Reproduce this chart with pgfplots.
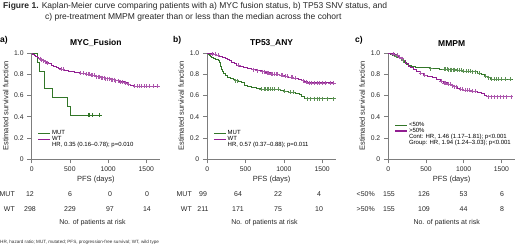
\documentclass[border=0pt]{standalone}
\usepackage{pgfplots}
\pgfplotsset{compat=1.18}
\usepackage{fontspec}
\setmainfont{Liberation Sans}
\definecolor{kmgreen}{RGB}{50,118,40}
\definecolor{kmpurple}{RGB}{145,30,145}
\definecolor{axgray}{RGB}{125,125,125}
\pgfplotsset{kmaxis/.style={
  scale only axis, height=105.7pt, anchor=south west,
  xmin=0, xmax=1680, ymin=0, ymax=1,
  axis x line*=bottom, axis y line*=left,
  axis line style={axgray, line width=0.7pt},
  tick style={axgray, line width=0.7pt}, tick align=outside, major tick length=4.5pt,
  xtick={0,500,1000,1500}, xticklabels={0,500,1000,1500},
  ytick={0,0.2,0.4,0.6,0.8,1}, yticklabels={0,0.2,0.4,0.6,0.8,1.0},
  ticklabel style={font=\fontsize{6.8}{7}\selectfont, text=black!85},
  /pgf/number format/assume math mode=true,
  xlabel={PFS (days)}, ylabel={Estimated survival function},
  label style={font=\fontsize{7.5}{8}\selectfont, text=black!85},
  xlabel style={yshift=3pt},
  ylabel style={yshift=-1pt},
  clip=false,
  legend cell align=left,
  legend image code/.code={\draw[#1] (0pt,0pt) -- (12pt,0pt);},
  legend style={draw=none, fill=none, anchor=north west, font=\fontsize{6}{6.5}\selectfont,
    row sep=-2.2pt, inner sep=0pt, nodes={inner sep=1.2pt}},
},
steps/.style={const plot, no marks, line width=0.8pt, forget plot},
cens/.style={only marks, mark=+, mark size=2pt, line width=0.6pt, forget plot},
}
\begin{document}
\begin{tikzpicture}
\useasboundingbox (0pt,0pt) rectangle (520pt,246pt);
% titles
\node[anchor=base west, inner sep=0pt, font=\fontsize{8.5}{9}\selectfont, text=black!85] at (3pt,237pt) {\textbf{Figure 1.} Kaplan-Meier curve comparing patients with a) MYC fusion status, b) TP53 SNV status, and};
\node[anchor=base west, inner sep=0pt, font=\fontsize{8.5}{9}\selectfont, text=black!85] at (45pt,226.5pt) {c) pre-treatment MMPM greater than or less than the median across the cohort};
\node[anchor=base west, inner sep=0pt, font=\bfseries\fontsize{8.5}{9}\selectfont] at (0pt,203pt) {a)};
\node[anchor=base west, inner sep=0pt, font=\bfseries\fontsize{8.5}{9}\selectfont] at (173pt,203pt) {b)};
\node[anchor=base west, inner sep=0pt, font=\bfseries\fontsize{8.5}{9}\selectfont] at (355pt,203pt) {c)};

% ---------------- panel a
\begin{axis}[kmaxis, at={(31.7pt,87pt)}, width=128.3pt,
  title={\textbf{MYC\_Fusion}}, title style={font=\fontsize{8.5}{9}\selectfont, yshift=-3pt},
  legend style={at={(axis cs:75,0.28)}}]
\addlegendimage{draw=kmgreen, line width=1.3pt}
\addlegendentry{MUT}
\addlegendimage{draw=kmpurple, line width=1.3pt}
\addlegendentry{WT}
\addlegendimage{empty legend}
\addlegendentry{HR, 0.35 (0.16–0.78); p=0.010}
\addplot[steps, kmgreen] coordinates {(0,1) (78,0.917) (100,0.833) (160,0.667) (265,0.583) (461,0.5) (509,0.417) (888,0.417)};
\addplot[steps, kmpurple] coordinates {(0,1) (15,0.99) (30,0.98) (50,0.97) (70,0.96) (90,0.95) (115,0.94) (140,0.93) (165,0.92) (195,0.91) (225,0.90) (255,0.89) (290,0.88) (320,0.87) (350,0.86) (380,0.85) (420,0.84) (480,0.83) (560,0.82) (640,0.81) (700,0.80) (770,0.79) (840,0.78) (900,0.77) (960,0.76) (1020,0.75) (1090,0.74) (1150,0.73) (1210,0.72) (1250,0.71) (1290,0.70) (1330,0.69) (1660,0.69)};
\addplot[cens, kmgreen] coordinates {(735,0.417) (760,0.417) (787,0.417) (888,0.417)};
\addplot[cens, kmpurple!75] coordinates {(110,0.95) (125,0.94) (150,0.93) (175,0.92) (200,0.91) (390,0.85) (410,0.85) (640,0.81) (680,0.81) (720,0.80) (740,0.80) (760,0.80) (780,0.79) (800,0.79) (820,0.79) (850,0.78) (870,0.78) (890,0.78) (910,0.77) (930,0.77) (950,0.77) (970,0.76) (990,0.76) (1010,0.76) (1040,0.75) (1060,0.75) (1080,0.75) (1100,0.74) (1130,0.74) (1160,0.73) (1190,0.73) (1230,0.72) (1270,0.71) (1350,0.69) (1380,0.69) (1410,0.69) (1440,0.69) (1470,0.69) (1500,0.69) (1540,0.69) (1590,0.69) (1650,0.69)};
\end{axis}

% ---------------- panel b
\begin{axis}[kmaxis, at={(207.3pt,87pt)}, width=128.7pt,
  title={\textbf{TP53\_ANY}}, title style={font=\fontsize{8.5}{9}\selectfont, yshift=-3pt},
  legend style={at={(axis cs:75,0.28)}}]
\addlegendimage{draw=kmgreen, line width=1.3pt}
\addlegendentry{MUT}
\addlegendimage{draw=kmpurple, line width=1.3pt}
\addlegendentry{WT}
\addlegendimage{empty legend}
\addlegendentry{HR, 0.57 (0.37–0.88); p=0.011}
\addplot[steps, kmgreen] coordinates {(0,1) (10,0.99) (25,0.98) (40,0.97) (60,0.96) (80,0.95) (100,0.94) (150,0.93) (160,0.91) (170,0.88) (180,0.85) (195,0.83) (210,0.81) (230,0.79) (260,0.77) (300,0.76) (340,0.75) (370,0.74) (400,0.73) (440,0.72) (480,0.70) (520,0.69) (580,0.68) (640,0.67) (700,0.66) (960,0.65) (1000,0.64) (1060,0.63) (1150,0.62) (1200,0.61) (1230,0.59) (1270,0.57) (1660,0.57)};
\addplot[steps, kmpurple] coordinates {(0,1) (40,0.995) (80,0.99) (120,0.98) (160,0.97) (200,0.96) (230,0.95) (260,0.94) (290,0.93) (320,0.915) (350,0.90) (380,0.885) (420,0.875) (470,0.865) (520,0.855) (580,0.845) (640,0.835) (700,0.825) (760,0.815) (820,0.805) (880,0.80) (940,0.79) (1000,0.785) (1060,0.775) (1130,0.765) (1190,0.75) (1230,0.74) (1270,0.73) (1310,0.72) (1660,0.72)};
\addplot[cens, kmgreen!80] coordinates {(370,0.74) (390,0.74) (700,0.66) (740,0.66) (760,0.66) (780,0.66) (800,0.66) (820,0.66) (850,0.66) (880,0.66) (930,0.66) (1010,0.64) (1080,0.63) (1120,0.63) (1300,0.57) (1350,0.57) (1400,0.57) (1430,0.57) (1460,0.57) (1500,0.57) (1560,0.57) (1650,0.57)};
\addplot[cens, kmpurple!75] coordinates {(60,0.995) (100,0.99) (140,0.98) (410,0.885) (600,0.845) (650,0.835) (720,0.825) (750,0.825) (780,0.815) (800,0.815) (830,0.805) (850,0.805) (870,0.805) (900,0.80) (920,0.80) (960,0.79) (980,0.79) (1020,0.785) (1040,0.785) (1090,0.775) (1110,0.775) (1150,0.765) (1250,0.74) (1290,0.73) (1330,0.72) (1360,0.72) (1400,0.72) (1430,0.72) (1460,0.72) (1500,0.72) (1540,0.72) (1600,0.72) (1650,0.72)};
\end{axis}

% ---------------- panel c
\begin{axis}[kmaxis, at={(388.3pt,87pt)}, width=126.7pt,
  title={\textbf{MMPM}}, title style={font=\fontsize{8.5}{9}\selectfont, yshift=-3pt},
  legend style={at={(axis cs:80,0.36)}}]
\addlegendimage{draw=kmgreen, line width=1.3pt}
\addlegendentry{<50\%}
\addlegendimage{draw=kmpurple, line width=1.3pt}
\addlegendentry{>50\%}
\addlegendimage{empty legend}
\addlegendentry{Cont: HR, 1.46 (1.17–1.81); p<0.001}
\addlegendimage{empty legend}
\addlegendentry{Group: HR, 1.94 (1.24–3.03); p<0.001}
\addplot[steps, kmgreen] coordinates {(0,1) (30,0.99) (60,0.98) (90,0.97) (120,0.96) (150,0.95) (180,0.93) (210,0.91) (240,0.895) (270,0.885) (300,0.875) (360,0.868) (450,0.862) (560,0.856) (680,0.85) (800,0.845) (900,0.838) (1000,0.832) (1100,0.826) (1180,0.81) (1230,0.80) (1270,0.785) (1310,0.77) (1350,0.755) (1660,0.755)};
\addplot[steps, kmpurple] coordinates {(0,1) (40,0.995) (80,0.99) (110,0.98) (140,0.965) (170,0.95) (200,0.93) (230,0.90) (260,0.88) (290,0.865) (330,0.85) (370,0.83) (420,0.81) (470,0.795) (520,0.785) (580,0.77) (640,0.755) (690,0.735) (730,0.72) (780,0.705) (830,0.695) (870,0.685) (910,0.67) (950,0.66) (1000,0.65) (1100,0.64) (1180,0.63) (1230,0.62) (1270,0.605) (1300,0.59) (1660,0.59)};
\addplot[cens, kmgreen!80] coordinates {(100,0.97) (170,0.95) (200,0.93) (560,0.856) (740,0.85) (760,0.85) (780,0.85) (800,0.845) (820,0.845) (840,0.845) (860,0.845) (880,0.845) (910,0.838) (940,0.838) (970,0.838) (1000,0.832) (1030,0.832) (1060,0.832) (1090,0.832) (1120,0.826) (1150,0.826) (1200,0.81) (1290,0.785) (1330,0.77) (1370,0.755) (1400,0.755) (1430,0.755) (1460,0.755) (1500,0.755) (1550,0.755) (1620,0.755)};
\addplot[cens, kmpurple!75] coordinates {(60,0.995) (120,0.98) (150,0.965) (180,0.95) (430,0.81) (480,0.795) (700,0.735) (740,0.72) (760,0.72) (790,0.705) (800,0.705) (820,0.705) (850,0.695) (880,0.685) (900,0.685) (960,0.66) (980,0.66) (1020,0.65) (1050,0.65) (1080,0.65) (1110,0.64) (1150,0.64) (1320,0.59) (1360,0.59) (1400,0.59) (1440,0.59) (1480,0.59) (1520,0.59) (1570,0.59) (1630,0.59)};
\end{axis}

% ---------------- risk tables
\begin{scope}[every node/.style={font=\fontsize{7}{8}\selectfont, text=black!85, inner sep=0pt}]
\node[anchor=base east] at (15pt,49.5pt) {MUT};
\node[anchor=base east] at (15pt,34.5pt) {WT};
\foreach \x/\a/\b in {30/12/298, 70/6/229, 110/0/97, 147/0/14}{
  \node[anchor=base] at (\x pt,49.5pt) {\a};
  \node[anchor=base] at (\x pt,34.5pt) {\b};}
\node[anchor=base] at (92.5pt,21pt) {No. of patients at risk};
\node[anchor=base east] at (192pt,49.5pt) {MUT};
\node[anchor=base east] at (192pt,34.5pt) {WT};
\foreach \x/\a/\b in {203/99/211, 238/64/171, 278/22/75, 319/4/10}{
  \node[anchor=base] at (\x pt,49.5pt) {\a};
  \node[anchor=base] at (\x pt,34.5pt) {\b};}
\node[anchor=base] at (264.5pt,21pt) {No. of patients at risk};
\node[anchor=base east] at (375pt,49.5pt) {<50\%};
\node[anchor=base east] at (375pt,34.5pt) {>50\%};
\foreach \x/\a/\b in {389/155/155, 424/126/109, 463.5/53/44, 502/6/8}{
  \node[anchor=base] at (\x pt,49.5pt) {\a};
  \node[anchor=base] at (\x pt,34.5pt) {\b};}
\node[anchor=base] at (446.7pt,21pt) {No. of patients at risk};
\end{scope}
\node[anchor=base west, inner sep=0pt, font=\fontsize{4.6}{5}\selectfont, text=black!80] at (0pt,2.5pt) {HR, hazard ratio; MUT, mutated; PFS, progression-free survival; WT, wild type};
\end{tikzpicture}
\end{document}
